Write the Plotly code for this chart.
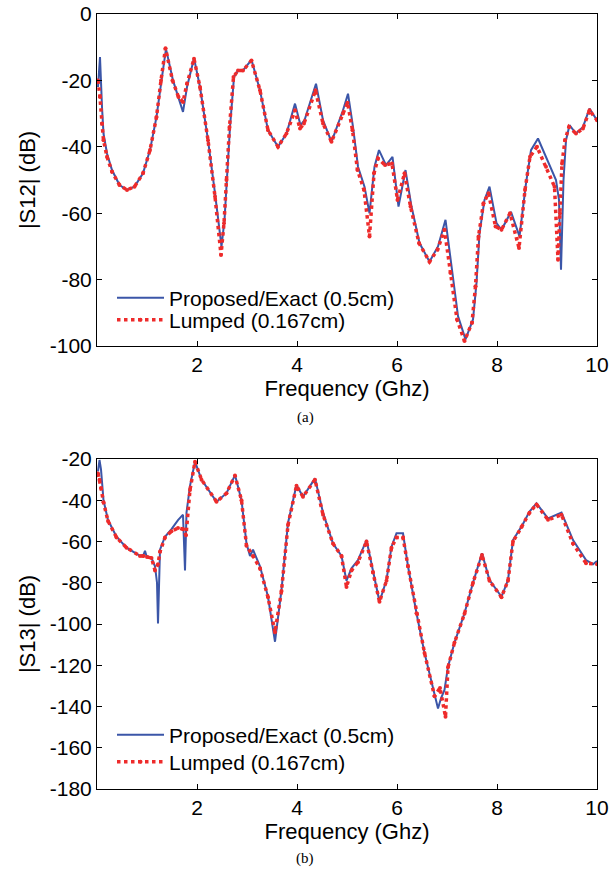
import plotly.graph_objects as go

# ---- |S12| data (GHz, dB) ----
f12_exact = [0.02, 0.06, 0.1, 0.13, 0.2, 0.3, 0.45, 0.6, 0.75, 0.92, 1.06, 1.19, 1.29, 1.38, 1.52,
             1.64, 1.72, 1.8, 1.94, 2.06, 2.22, 2.36, 2.49, 2.55, 2.6, 2.66, 2.74, 2.82, 2.92, 3.09,
             3.26, 3.42, 3.62, 3.79, 3.96, 4.07, 4.15, 4.38, 4.52, 4.69, 4.92, 5.02, 5.12, 5.22, 5.35,
             5.45, 5.55, 5.64, 5.78, 5.91, 6.03, 6.17, 6.29, 6.45, 6.65, 6.82, 6.97, 7.09, 7.22, 7.37,
             7.52, 7.59, 7.65, 7.75, 7.85, 7.99, 8.09, 8.28, 8.45, 8.58, 8.68, 8.82, 8.98, 9.18, 9.24,
             9.28, 9.33, 9.38, 9.45, 9.58, 9.72, 9.85, 10.0]
s12_exact = [-22, -13, -28, -36, -42, -47, -51.5, -53, -52, -48, -41, -31, -20, -10.5, -20,
             -26, -29.5, -22, -13.3, -22, -38, -54, -70, -62, -50, -34, -19, -17, -17, -13.8,
             -23, -35, -40, -36, -27, -33.5, -32, -21, -32, -38.5, -29, -24, -34, -46, -52,
             -60, -46, -41, -45.5, -43, -58, -47, -58, -69, -74.6, -70, -62, -76, -91, -98,
             -92, -81, -66, -56, -52, -63, -65, -59.6, -67, -51, -41, -37.5, -43, -50, -56,
             -77, -50, -38, -33.5, -36, -34, -28.5, -32]

f12_lumped = [0.02, 0.06, 0.1, 0.13, 0.2, 0.3, 0.45, 0.6, 0.75, 0.92, 1.06, 1.19, 1.28, 1.37, 1.51,
              1.63, 1.72, 1.8, 1.94, 2.06, 2.22, 2.36, 2.48, 2.54, 2.59, 2.65, 2.73, 2.82, 2.92, 3.09,
              3.26, 3.42, 3.62, 3.79, 3.96, 4.06, 4.14, 4.37, 4.52, 4.69, 4.92, 5.01, 5.11, 5.21, 5.34,
              5.45, 5.54, 5.62, 5.76, 5.9, 6.01, 6.15, 6.27, 6.44, 6.65, 6.81, 6.95, 7.07, 7.2, 7.35,
              7.5, 7.57, 7.63, 7.73, 7.83, 7.97, 8.09, 8.26, 8.44, 8.56, 8.66, 8.8, 8.98, 9.15, 9.22,
              9.26, 9.3, 9.36, 9.44, 9.58, 9.72, 9.85, 10.0]
s12_lumped = [-20, -25, -33, -38, -43, -47.5, -51.5, -53, -52, -48, -41, -31, -20, -10.3, -20,
              -25, -26.5, -21, -13.5, -22, -38, -55, -72.6, -63, -50, -34, -19, -17, -17, -14,
              -23, -35, -40, -36, -29, -34.5, -33, -23, -33, -38.5, -30, -26.7, -35, -47, -53,
              -67, -48, -43.5, -45.5, -45, -56, -48, -58, -69, -74.6, -71, -65, -78, -92, -98.5,
              -93, -82, -67, -57, -54, -64, -65, -60, -70.5, -53, -43, -40, -46, -52, -74,
              -60, -45, -38, -34, -36, -34.5, -29, -32]

# ---- |S13| data (GHz, dB) ----
f13_exact = [0.02, 0.05, 0.08, 0.13, 0.22, 0.39, 0.59, 0.86, 0.93, 0.96, 0.99, 1.09, 1.16, 1.2,
             1.22, 1.24, 1.26, 1.36, 1.49, 1.62, 1.72, 1.76, 1.79, 1.86, 1.96, 2.09, 2.39, 2.59,
             2.76, 2.89, 2.99, 3.06, 3.12, 3.26, 3.42, 3.56, 3.69, 3.82, 3.99, 4.12, 4.36, 4.52,
             4.72, 4.89, 4.99, 5.09, 5.22, 5.39, 5.52, 5.65, 5.79, 5.89, 5.99, 6.12, 6.22, 6.39,
             6.55, 6.75, 6.82, 6.88, 6.95, 7.02, 7.15, 7.35, 7.52, 7.7, 7.85, 8.09, 8.22, 8.32,
             8.49, 8.65, 8.79, 9.02, 9.29, 9.52, 9.78, 9.92, 10.0]
s13_exact = [-26, -20.5, -25, -40, -49.6, -57.7, -63, -67, -66.5, -64.5, -67, -68, -72, -80,
             -99.7, -75, -64, -57.7, -54, -49.6, -47, -74, -46, -33, -21.3, -30, -40.7, -36.6,
             -27.8, -40, -61, -67, -64, -72, -86.8, -108.6, -83.5, -51, -32.6, -38.3, -29.4, -46,
             -61, -67, -79, -73, -69, -59.3, -75, -89.2, -78.7, -62.5, -56, -56, -72, -94.8,
             -114, -135, -141, -136, -132, -120.7, -109, -94.8, -80, -65.7, -78.7, -86.8, -78.7, -59.3,
             -52.8, -45.5, -41.5, -48.8, -46, -59.3, -69, -71, -69.5]

f13_lumped = [0.02, 0.05, 0.08, 0.13, 0.22, 0.39, 0.59, 0.86, 0.93, 1.0, 1.09, 1.16, 1.22, 1.26,
              1.36, 1.49, 1.62, 1.72, 1.78, 1.86, 1.96, 2.09, 2.39, 2.59, 2.76, 2.89, 2.99, 3.12,
              3.26, 3.42, 3.56, 3.69, 3.82, 3.99, 4.12, 4.36, 4.52, 4.72, 4.89, 4.99, 5.09, 5.22,
              5.39, 5.52, 5.65, 5.79, 5.89, 5.99, 6.12, 6.22, 6.39, 6.55, 6.75, 6.86, 6.97, 7.02,
              7.15, 7.35, 7.52, 7.7, 7.85, 8.09, 8.22, 8.32, 8.49, 8.65, 8.79, 9.02, 9.29, 9.52,
              9.78, 10.0]
s13_lumped = [-27, -30, -34, -41, -50, -58, -63, -67, -67, -67.5, -68, -74, -71, -65,
              -58, -55, -53.5, -54, -57, -35, -21.3, -30, -40.7, -36.6, -28, -40, -62, -67,
              -73, -87, -104, -84, -52, -33, -38.3, -30, -47, -61, -67, -82, -74, -70,
              -60, -75, -89.2, -79, -63, -58, -58, -72, -94.8, -114, -135, -131, -145, -121,
              -109, -95, -80, -66.5, -79, -87, -79, -60, -53, -46, -42, -49.5, -47, -61,
              -70.5, -71]

x_ticks = [2, 4, 6, 8, 10]
y12_ticks = [0, -20, -40, -60, -80, -100]
y13_ticks = [-20, -40, -60, -80, -100, -120, -140, -160, -180]

BLUE = "#3b56a8"
RED = "#ee2b2b"
FONT = "Liberation Sans, Arial, sans-serif"
FS = 21

# figure geometry (pixels)
W, H = 611, 874
ML, MR, MT, MB = 97, 14, 14, 85
PH = H - MT - MB          # plotting height in px


def py_to_paper(py):
    return (H - MB - py) / PH


def px_to_paper(px):
    return (px - ML) / (W - ML - MR)


fig = go.Figure()
fig.add_trace(go.Scatter(x=f12_exact, y=s12_exact, mode="lines", name="Proposed/Exact (0.5cm)",
                         line=dict(color=BLUE, width=2), xaxis="x", yaxis="y", legend="legend",
                         showlegend=True))
fig.add_trace(go.Scatter(x=f12_lumped, y=s12_lumped, mode="lines+markers", name="Lumped (0.167cm)",
                         line=dict(color=RED, width=3.5, dash="dot"), marker=dict(size=4, color=RED),
                         xaxis="x", yaxis="y", legend="legend2", showlegend=True))
fig.add_trace(go.Scatter(x=f13_exact, y=s13_exact, mode="lines", name="Proposed/Exact (0.5cm)",
                         line=dict(color=BLUE, width=2), xaxis="x2", yaxis="y2", legend="legend3",
                         showlegend=True))
fig.add_trace(go.Scatter(x=f13_lumped, y=s13_lumped, mode="lines+markers", name="Lumped (0.167cm)",
                         line=dict(color=RED, width=3.5, dash="dot"), marker=dict(size=4, color=RED),
                         xaxis="x2", yaxis="y2", legend="legend4", showlegend=True))

axis_common = dict(showline=True, linecolor="black", linewidth=1, mirror="ticks", ticks="inside",
                   ticklen=5, tickcolor="black", showgrid=False, zeroline=False, automargin=False,
                   tickfont=dict(family=FONT, size=FS, color="black"))

title_font = dict(family=FONT, size=FS + 1, color="black")


def leg(y_px):
    return dict(x=0.03, y=py_to_paper(y_px), xanchor="left", yanchor="middle",
                bgcolor="rgba(0,0,0,0)", font=dict(family=FONT, size=FS, color="black"),
                itemwidth=47, visible=True)


cap_font = dict(family="Liberation Serif, Times New Roman, serif", size=15, color="black")

fig.update_layout(
    width=W, height=H,
    showlegend=True,
    margin=dict(l=ML, r=MR, t=MT, b=MB, autoexpand=False),
    paper_bgcolor="white", plot_bgcolor="white",
    font=dict(family=FONT, size=FS, color="black"),
    xaxis=dict(domain=[0, 1], range=[0, 10], anchor="y", tickvals=x_ticks,
               ticktext=[str(v) for v in x_ticks],
               title=dict(text="Frequency (Ghz)", standoff=0, font=title_font), **axis_common),
    yaxis=dict(domain=[py_to_paper(346), 1.0], range=[-100, 0], anchor="x", tickvals=y12_ticks,
               ticktext=[str(v) for v in y12_ticks],
               title=dict(text="|S12| (dB)", standoff=8, font=title_font), **axis_common),
    xaxis2=dict(domain=[0, 1], range=[0, 10], anchor="y2", tickvals=x_ticks,
                ticktext=[str(v) for v in x_ticks],
                title=dict(text="Frequency (Ghz)", standoff=0, font=title_font), **axis_common),
    yaxis2=dict(domain=[0.0, py_to_paper(459)], range=[-180, -20], anchor="x2", tickvals=y13_ticks,
                ticktext=[str(v) for v in y13_ticks],
                title=dict(text="|S13| (dB)", standoff=8, font=title_font), **axis_common),
    legend=leg(298),
    legend2=leg(320),
    legend3=leg(735),
    legend4=leg(762),
    annotations=[
        dict(text="(a)", x=px_to_paper(305), y=py_to_paper(418), xref="paper", yref="paper",
             xanchor="center", yanchor="middle", showarrow=False, font=cap_font),
        dict(text="(b)", x=px_to_paper(305), y=py_to_paper(858), xref="paper", yref="paper",
             xanchor="center", yanchor="middle", showarrow=False, font=cap_font),
    ],
)

fig.write_html("out.html", config={"displayModeBar": False},
               post_script="document.body.style.margin='0px';document.body.style.overflow='hidden';")
